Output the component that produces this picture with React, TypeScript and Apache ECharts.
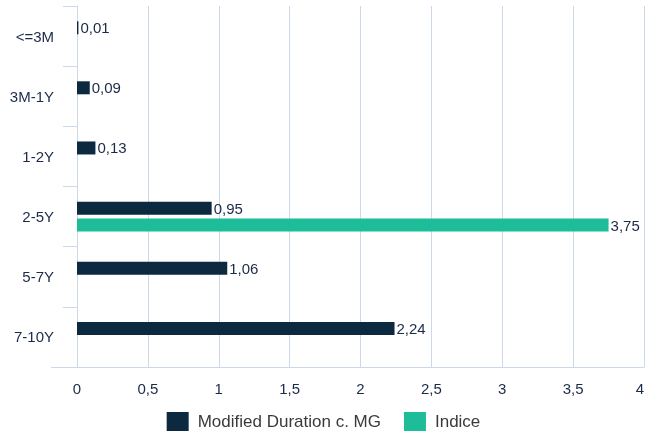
import React, { useEffect, useRef } from "react";
import * as echarts from "echarts";

const categories = ["<=3M", "3M-1Y", "1-2Y", "2-5Y", "5-7Y", "7-10Y"];
const mgValues = [0.01, 0.09, 0.13, 0.95, 1.06, 2.24];
const indiceValues: (number | null)[] = [null, null, null, 3.75, null, null];
const xTicks = { min: 0, max: 4, interval: 0.5 };
const seriesNames = ["Modified Duration c. MG", "Indice"];

const FONT = "'Liberation Sans', Arial, Helvetica, sans-serif";
const NAVY = "#0c2940";
const TEAL = "#1dbd9a";
const GRID = "#ccd9ea";
const TEXT = "#1a2a47";

const fmt = (v: number) => String(v).replace(".", ",");

export default function App() {
  const ref = useRef<HTMLDivElement>(null);
  useEffect(() => {
    if (!ref.current) return;
    const chart = echarts.init(ref.current, undefined, { renderer: "svg" });
    const label = {
      show: true,
      position: "right",
      distance: 2,
      color: TEXT,
      fontSize: 15,
      fontFamily: FONT,
      padding: [5, 0, 0, 0],
      formatter: (p: any) => (p.value == null ? "" : fmt(p.value)),
    };
    chart.setOption({
      animation: false,
      textStyle: { fontFamily: FONT },
      grid: { left: 77, right: 0, top: 6, height: 361, containLabel: false },
      legend: {
        data: seriesNames,
        top: 412,
        left: "center",
        padding: 0,
        itemWidth: 22,
        itemHeight: 19,
        itemGap: 23,
        icon: "rect",
        textStyle: { fontSize: 17, color: "#3a3a3a", fontFamily: FONT, padding: [0, 0, 0, 4] },
      },
      xAxis: {
        type: "value",
        min: xTicks.min,
        max: xTicks.max,
        interval: xTicks.interval,
        axisLine: { show: true, lineStyle: { color: GRID, width: 1 } },
        axisTick: { show: false },
        splitLine: { show: true, lineStyle: { color: GRID, width: 1 } },
        axisLabel: {
          color: TEXT,
          fontSize: 15,
          fontFamily: FONT,
          margin: 14,
          alignMaxLabel: "right",
          formatter: (v: number) => fmt(v),
        },
      },
      yAxis: {
        type: "category",
        data: categories,
        inverse: true,
        axisLine: { show: true, lineStyle: { color: GRID, width: 1 } },
        axisTick: { show: true, length: 14, lineStyle: { color: GRID } },
        axisLabel: {
          color: TEXT,
          fontSize: 15,
          fontFamily: FONT,
          margin: 23,
          padding: [4, 0, 0, 0],
        },
      },
      graphic: [
        {
          type: "line",
          shape: { x1: 51, y1: 367.5, x2: 77, y2: 367.5 },
          style: { stroke: GRID, lineWidth: 1 },
          silent: true,
        },
      ],
      series: [
        {
          name: seriesNames[0],
          type: "bar",
          data: mgValues,
          barWidth: 13,
          barGap: "30%",
          itemStyle: { color: NAVY },
          label,
        },
        {
          name: seriesNames[1],
          type: "bar",
          data: indiceValues,
          barWidth: 13,
          barGap: "30%",
          itemStyle: { color: TEAL },
          label,
        },
      ],
    });
    return () => chart.dispose();
  }, []);
  return (
    <div
      ref={ref}
      style={{ position: "fixed", left: 0, top: 0, width: 647, height: 433 }}
    />
  );
}
